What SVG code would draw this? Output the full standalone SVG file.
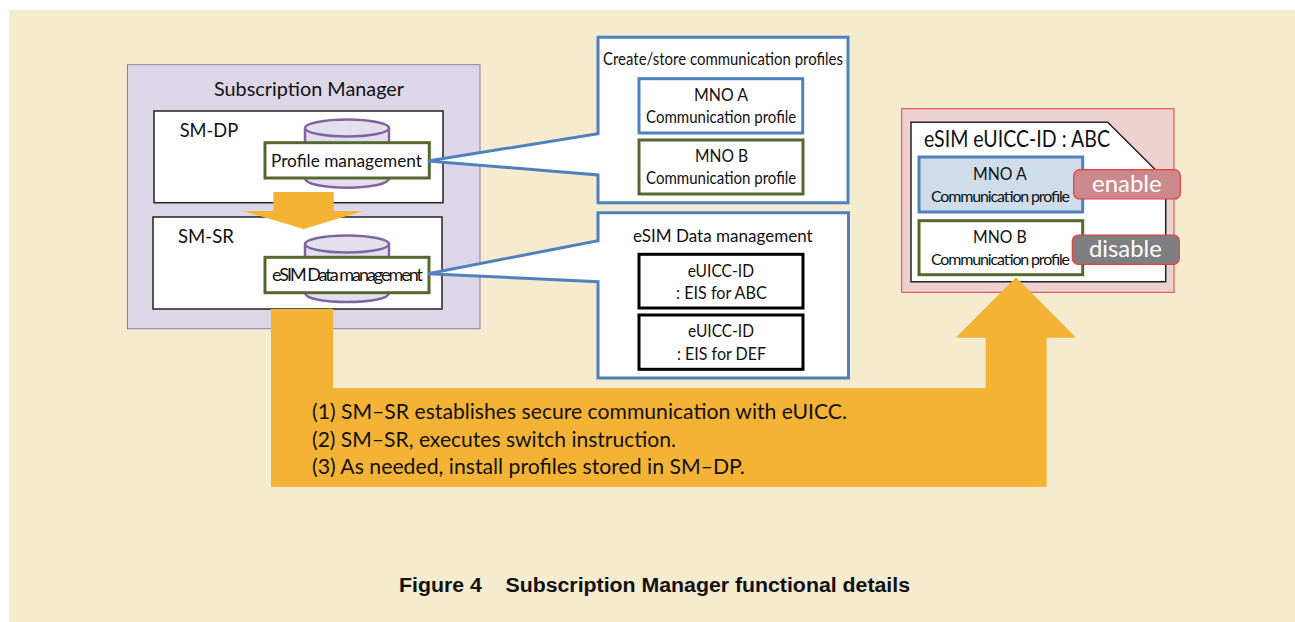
<svg xmlns="http://www.w3.org/2000/svg" width="1295" height="622" viewBox="0 0 1295 622">
<style>
text{font-family:"Lato","Noto Sans","Liberation Sans",sans-serif;fill:#111;white-space:pre}
.s16{font-size:16px}.s18{font-size:18px}.s20{font-size:20px}.s21{font-size:21.5px}
.bx{fill:#fff;stroke:#222;stroke-width:1.5}
.gr{fill:#fff;stroke:#56682F;stroke-width:3}
.bl{fill:#fff;stroke:#4F81BD;stroke-width:3}
.bk{fill:#fff;stroke:#000;stroke-width:3}
.cy{fill:#E4DFEC;stroke:#8064A2;stroke-width:2.5}
.ar{fill:#F5B335;stroke:none}
.pn{fill:#fff;stroke:#4F81BD;stroke-width:3;stroke-linejoin:miter}
</style>
<rect x="0" y="0" width="1295" height="622" fill="#fff"/>
<rect x="9" y="10" width="1286" height="612" fill="#F5EBCF"/>

<g id="subscription-manager">
<rect x="127.5" y="64.7" width="352.5" height="264" fill="#DCD6E6" stroke="#8E7CB0" stroke-width="1"/>
<text x="214" y="95.7" class="s20" textLength="190" lengthAdjust="spacingAndGlyphs">Subscription Manager</text>
</g>

<g id="sm-dp">
<rect x="154" y="111" width="289" height="91.7" class="bx"/>
<text x="179.7" y="137" class="s20" textLength="58.5" lengthAdjust="spacingAndGlyphs">SM-DP</text>
<path d="M305 128V178C305 191 389 191 389 178V128" class="cy"/>
<ellipse cx="347" cy="128" rx="42" ry="8.5" class="cy"/>
<rect x="265" y="142.7" width="164.3" height="35.3" class="gr"/>
<text x="271" y="166.7" class="s18" textLength="151" lengthAdjust="spacingAndGlyphs">Profile management</text>
</g>

<g id="sm-sr">
<rect x="153" y="217" width="289" height="92" class="bx"/>
<text x="178" y="243" class="s20" textLength="56" lengthAdjust="spacingAndGlyphs">SM-SR</text>
<path d="M305 244V293C305 305 389 305 389 293V244" class="cy"/>
<ellipse cx="347" cy="244" rx="42" ry="8.5" class="cy"/>
<rect x="265" y="257.3" width="164" height="35.4" class="gr"/>
<text x="272" y="280.7" class="s18" textLength="151" lengthAdjust="spacing">eSIM Data management</text>
</g>

<g id="profiles-panel">
<polygon class="pn" points="598,37.3 848,37.3 848,202.7 598,202.7 598,175 428,161 598,133.7"/>
<text x="603" y="65" class="s18" textLength="240" lengthAdjust="spacingAndGlyphs">Create/store communication profiles</text>
<rect x="639" y="78.7" width="163.7" height="54.3" class="bl"/>
<text x="694" y="101" class="s18" textLength="54" lengthAdjust="spacingAndGlyphs">MNO A</text>
<text x="646" y="123" class="s18" textLength="150.3" lengthAdjust="spacingAndGlyphs">Communication profile</text>
<rect x="639" y="140" width="164" height="54" class="gr"/>
<text x="695" y="162" class="s18" textLength="53" lengthAdjust="spacingAndGlyphs">MNO B</text>
<text x="646" y="184" class="s18" textLength="150.3" lengthAdjust="spacingAndGlyphs">Communication profile</text>
</g>

<g id="esim-data-panel">
<polygon class="pn" points="598,212.7 848.5,212.7 848.5,378 598,378 598,281.7 428,273.7 598,240.7"/>
<text x="633" y="242" class="s18" textLength="179.7" lengthAdjust="spacingAndGlyphs">eSIM Data management</text>
<rect x="639" y="254.3" width="164" height="53.7" class="bk"/>
<text x="687.7" y="277" class="s18" textLength="66.3" lengthAdjust="spacingAndGlyphs">eUICC-ID</text>
<text x="676" y="299" class="s18" textLength="90.7" lengthAdjust="spacingAndGlyphs">: EIS for ABC</text>
<rect x="639" y="315" width="164" height="54.3" class="bk"/>
<text x="688" y="337" class="s18" textLength="66" lengthAdjust="spacingAndGlyphs">eUICC-ID</text>
<text x="677" y="359.7" class="s18" textLength="89" lengthAdjust="spacingAndGlyphs">: EIS for DEF</text>
</g>

<g id="esim">
<rect x="901.7" y="108.7" width="272.3" height="183.6" fill="#EDD1D1" stroke="#EE3B3B" stroke-width="1"/>
<polygon points="911,122.3 1107.7,122.3 1165.7,180 1165.7,281.7 911,281.7" class="bx"/>
<text x="924" y="146.7" textLength="186" lengthAdjust="spacingAndGlyphs" style="font-size:24px">eSIM eUICC-ID : ABC</text>
<rect x="919" y="157" width="163.7" height="55" fill="#CFDCE9" stroke="#4F81BD" stroke-width="3"/>
<text x="973" y="179.7" class="s18" textLength="53.7" lengthAdjust="spacingAndGlyphs">MNO A</text>
<text x="931" y="201.7" class="s16" textLength="139" lengthAdjust="spacing">Communication profile</text>
<rect x="919" y="220.7" width="163.7" height="54" class="gr"/>
<text x="973" y="242.7" class="s18" textLength="53.7" lengthAdjust="spacingAndGlyphs">MNO B</text>
<text x="931" y="264.7" class="s16" textLength="139" lengthAdjust="spacing">Communication profile</text>
</g>

<g id="enable">
<rect x="1073.7" y="169.7" width="106.6" height="29.3" rx="6" fill="#CC898D" stroke="#EE3B3B" stroke-width="1.2"/>
<text x="1092" y="192.3" textLength="69.7" lengthAdjust="spacingAndGlyphs" style="font-size:24px;fill:#fff">enable</text>
</g>
<g id="disable">
<rect x="1072.3" y="235" width="107" height="29.3" rx="6" fill="#7F7F82" stroke="#EE3B3B" stroke-width="1.2"/>
<text x="1089" y="257.3" textLength="72.7" lengthAdjust="spacingAndGlyphs" style="font-size:24px;fill:#fff">disable</text>
</g>

<g id="connectors">
<polygon class="ar" points="273.3,192 333.7,192 333.7,211 363,211 303.7,229 243,211 273.3,211"/>
<polygon class="ar" points="271,309 333,309 333,388 985.7,388 985.7,337.7 955.7,337.7 1016,277.3 1076,337.7 1046.7,337.7 1046.7,487 271,487"/>
</g>

<g id="steps">
<text x="312" y="419" class="s21" textLength="535" lengthAdjust="spacingAndGlyphs">(1) SM–SR establishes secure communication with eUICC.</text>
<text x="312" y="447" class="s21" textLength="364" lengthAdjust="spacingAndGlyphs">(2) SM–SR, executes switch instruction.</text>
<text x="312" y="474" class="s21" textLength="432.7" lengthAdjust="spacingAndGlyphs">(3) As needed, install profiles stored in SM–DP.</text>
</g>

<text x="399" y="591.7" textLength="511" lengthAdjust="spacingAndGlyphs" style="font-family:'Liberation Sans',Arial,sans-serif;font-weight:bold;font-size:20px">Figure 4    Subscription Manager functional details</text>
</svg>
